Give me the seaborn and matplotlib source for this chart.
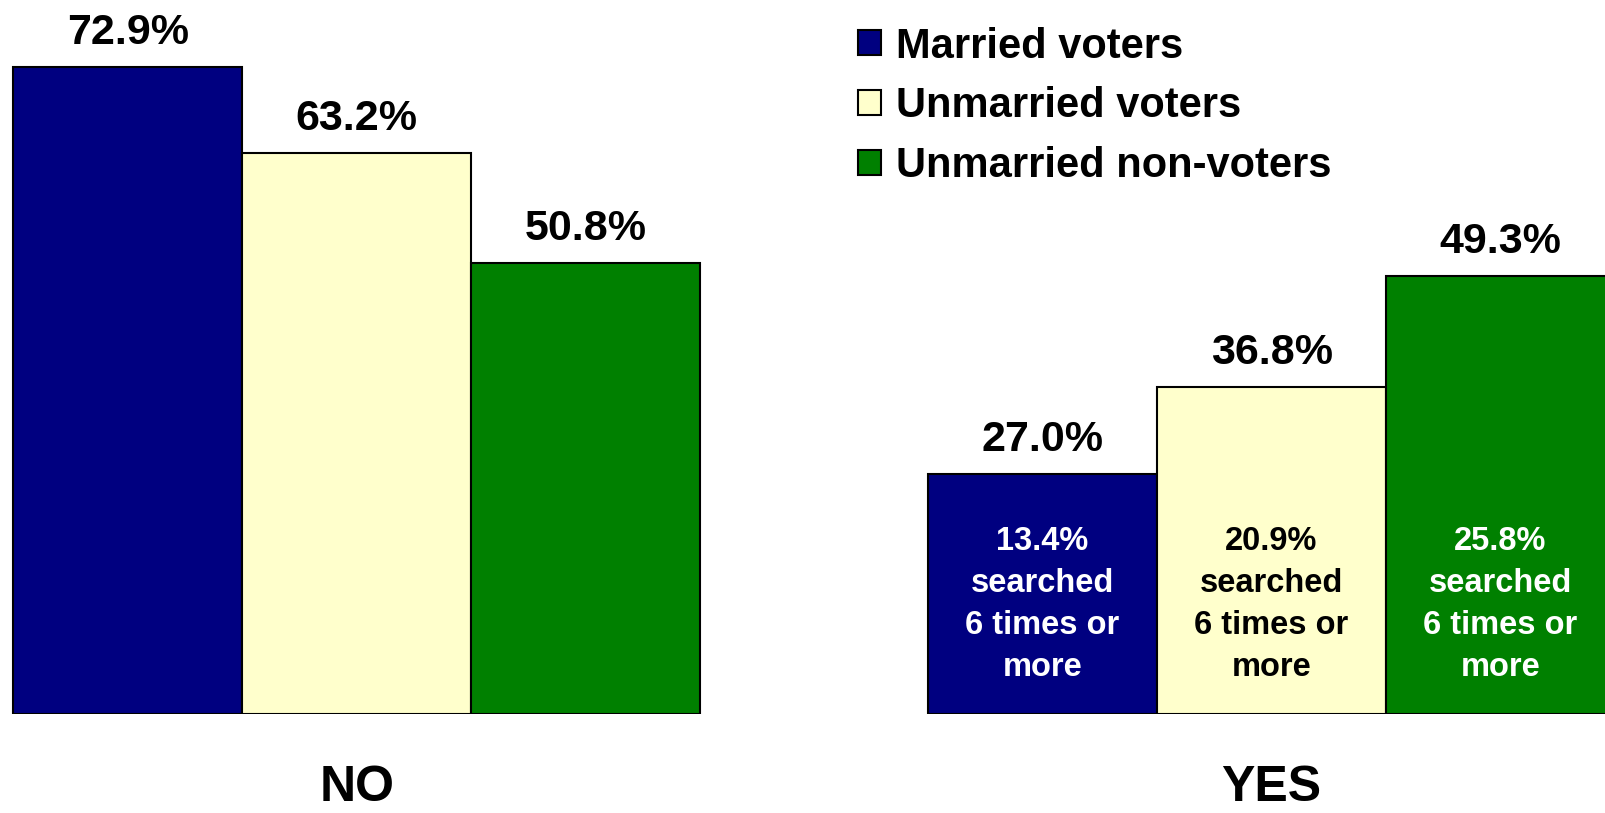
import matplotlib
matplotlib.use("Agg")
import matplotlib.pyplot as plt
import seaborn as sns
import pandas as pd

answers = ["NO", "YES"]
groups = ["Married voters", "Unmarried voters", "Unmarried non-voters"]
married = [72.9, 27.0]
unmarried = [63.2, 36.8]
nonvoters = [50.8, 49.3]
searched_6plus = [13.4, 20.9, 25.8]  # share of YES who searched 6+ times

colors = ["#000080", "#FFFFCC", "#008000"]
inner_text_colors = ["white", "black", "white"]

df = pd.DataFrame({
    "answer": answers * 3,
    "group": [groups[0]] * 2 + [groups[1]] * 2 + [groups[2]] * 2,
    "pct": married + unmarried + nonvoters,
})

sns.set_style("white")
plt.rcParams["font.family"] = ["Liberation Sans", "DejaVu Sans"]
plt.rcParams["font.weight"] = "bold"
plt.rcParams["text.color"] = "black"
plt.rcParams["xtick.color"] = "black"

fig = plt.figure(figsize=(16.06, 8.13), dpi=100)
ax = fig.add_axes([0, 0.1222, 1, 0.8778])

sns.barplot(data=df, x="answer", y="pct", hue="group", palette=colors,
            edgecolor="black", linewidth=1.5, width=0.751, gap=0,
            saturation=1, ax=ax)

ax.set_xlim(-0.390, 1.3656)
ax.set_ylim(0, 80.4)
sns.despine(ax=ax, left=True, bottom=True)
ax.set_yticks([])
ax.set_xlabel("")
ax.set_ylabel("")
ax.tick_params(axis="x", length=0, pad=37, labelsize=36, labelcolor="black")
for t in ax.get_xticklabels():
    t.set_fontweight("bold")

for cont in ax.containers:
    ax.bar_label(cont, fmt="%.1f%%", padding=10, fontsize=31, fontweight="bold",
                 color="black")

# text inside the YES bars
for i, cont in enumerate(ax.containers):
    p = cont.patches[1]
    ax.text(p.get_x() + p.get_width() / 2, 12.3,
            f"{searched_6plus[i]}%\nsearched\n6 times or\nmore",
            ha="center", va="center", fontsize=23.5, fontweight="bold",
            color=inner_text_colors[i], linespacing=1.45)

leg = ax.legend(loc="upper left", bbox_to_anchor=(0.524, 0.986), frameon=False,
                fontsize=30, handlelength=0.55, handleheight=0.55,
                handletextpad=0.35, labelspacing=0.47, borderaxespad=0)
for txt in leg.get_texts():
    txt.set_fontweight("bold")
    txt.set_color("black")

fig.savefig("out.png", dpi=100)
